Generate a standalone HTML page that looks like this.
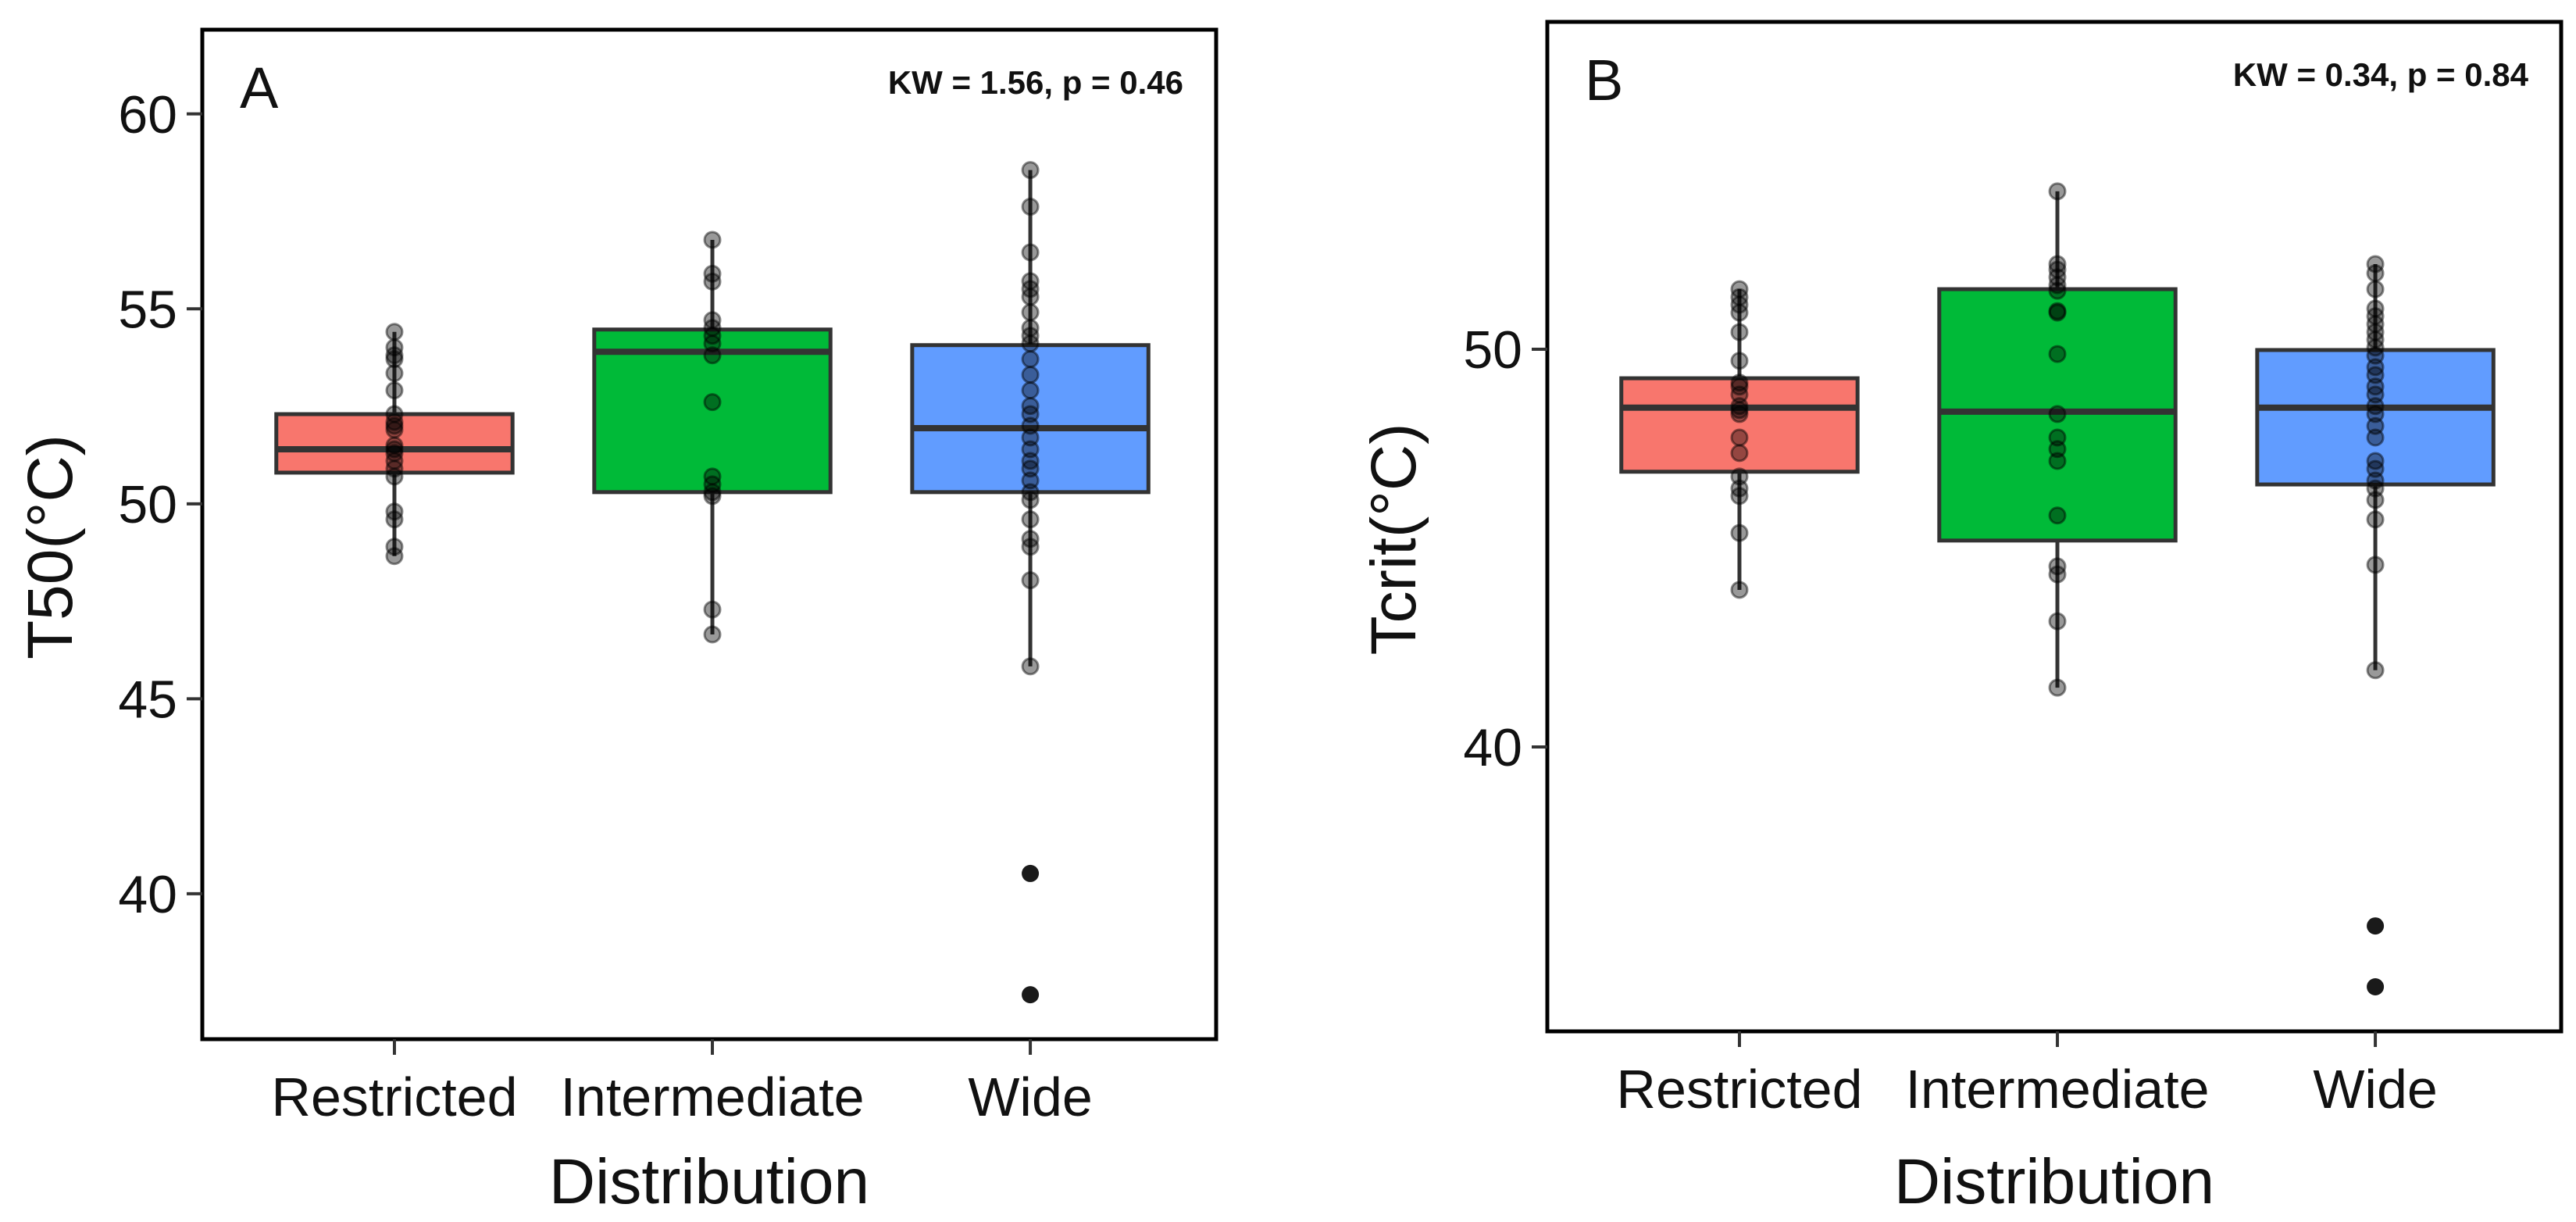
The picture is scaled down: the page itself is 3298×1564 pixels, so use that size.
<!DOCTYPE html>
<html><head><meta charset="utf-8"><style>html,body{margin:0;padding:0;background:#fff}svg{display:block}</style></head>
<body>
<svg id="chart" width="3298" height="1564" xmlns="http://www.w3.org/2000/svg" font-family="Liberation Sans, Arial, sans-serif"></svg>
<script>
const categories = ["Restricted","Intermediate","Wide"];
const colorsFill = ["#F8766D","#00BA38","#619CFF"];
// Panel A: T50
const aTicks = [40,45,50,55,60];
const aQ1 = [50.80,50.30,50.30];
const aMed = [51.40,53.90,51.94];
const aQ3 = [52.30,54.47,54.07];
const aLo = [48.66,46.65,45.83];
const aHi = [54.41,56.77,58.56];
const aOutliers = [[],[],[40.52,37.41]];
const aPtsR = [54.41,54.01,53.81,53.71,53.35,52.91,52.30,52.10,52.00,51.90,51.50,51.40,51.30,51.10,50.90,50.70,49.80,49.60,48.90,48.66];
const aPtsI = [56.77,55.90,55.70,54.71,54.51,54.31,54.11,53.81,52.61,50.70,50.50,50.30,50.20,47.29,46.65];
const aPtsW = [58.56,57.62,56.45,55.71,55.51,55.31,54.91,54.51,54.31,54.11,53.71,53.31,52.91,52.51,52.30,52.00,51.70,51.40,51.10,50.90,50.60,50.30,50.10,49.60,49.10,48.90,48.04,45.83];
// Panel B: Tcrit
const bTicks = [40,50];
const bQ1 = [46.92,45.19,46.60];
const bMed = [48.53,48.43,48.53];
const bQ3 = [49.27,51.51,49.98];
const bLo = [43.95,41.49,41.93];
const bHi = [51.51,53.97,52.14];
const bOutliers = [[],[],[35.50,33.97]];
const bPtsR = [51.51,51.31,51.12,50.92,50.43,49.71,49.16,49.06,48.86,48.57,48.47,48.37,47.78,47.39,46.80,46.50,46.31,45.38,43.95];
const bPtsI = [53.97,52.14,52.00,51.81,51.61,51.47,50.96,50.92,49.88,48.37,47.78,47.49,47.19,45.82,44.54,44.34,43.16,41.49];
const bPtsW = [52.14,51.91,51.51,51.02,50.83,50.63,50.43,50.24,50.04,49.84,49.55,49.35,49.06,48.86,48.57,48.37,48.07,47.78,47.19,46.99,46.70,46.50,46.21,45.72,44.58,41.93];

const svg = document.getElementById('chart');
const NS = 'http://www.w3.org/2000/svg';
function mk(tag, attrs, parent, text){
  const e = document.createElementNS(NS, tag);
  for (const k in attrs) e.setAttribute(k, attrs[k]);
  if (text !== undefined) e.textContent = text;
  parent.appendChild(e); return e;
}

function panel(cfg){
  const g = mk('g', {}, svg);
  
  
  const y = v => cfg.y0 + (cfg.vTop - v) / (cfg.vTop - cfg.vBot) * (cfg.y1 - cfg.y0);
  const x = i => cfg.x0 + (cfg.x1 - cfg.x0) * (0.1895 + i * 0.3136);
  const halfW = (cfg.x1 - cfg.x0) * 0.1165;
  for (let i = 0; i < 3; i++) {
    const cx = x(i);
    const w = mk('line', {x1:cx, x2:cx, y1:y(cfg.hi[i]), y2:y(cfg.lo[i]), stroke:'#333', 'stroke-width':5}, g);
    
    
    const b = mk('rect', {x:cx-halfW, y:y(cfg.q3[i]), width:2*halfW, height:y(cfg.q1[i])-y(cfg.q3[i]), fill:colorsFill[i], stroke:'#333', 'stroke-width':5}, g);
    
    
    const m = mk('line', {x1:cx-halfW, x2:cx+halfW, y1:y(cfg.med[i]), y2:y(cfg.med[i]), stroke:'#333', 'stroke-width':8}, g);
    
    
    cfg.out[i].forEach(v => {
      const o = mk('circle', {cx:cx, cy:y(v), r:11, fill:'#1a1a1a'}, g);
      
      
    });
    cfg.pts[i].forEach(v => {
      const p = mk('circle', {cx:cx, cy:y(v), r:10, fill:'rgba(0,0,0,0.4)', stroke:'rgba(0,0,0,0.45)', 'stroke-width':3}, g);
      
      
    });
  }
  const f = mk('rect', {x:cfg.x0, y:cfg.y0, width:cfg.x1-cfg.x0, height:cfg.y1-cfg.y0, fill:'none', stroke:'#000', 'stroke-width':5}, g);
  
  
  cfg.ticks.forEach(t => {
    mk('line', {x1:cfg.x0-20, x2:cfg.x0, y1:y(t), y2:y(t), stroke:'#333', 'stroke-width':4}, g);
    const tl = mk('text', {x:cfg.x0-32, y:y(t)+24, 'font-size':68, 'text-anchor':'end', fill:'#111'}, g, String(t));
    
    
  });
  categories.forEach((c, i) => {
    mk('line', {x1:x(i), x2:x(i), y1:cfg.y1, y2:cfg.y1+20, stroke:'#333', 'stroke-width':4}, g);
    const xl = mk('text', {x:x(i), y:cfg.y1+98, 'font-size':70, 'text-anchor':'middle', fill:'#111'}, g, c);
    
    
  });
  const xt = mk('text', {x:(cfg.x0+cfg.x1)/2, y:1540, 'font-size':82, 'text-anchor':'middle', fill:'#111'}, g, 'Distribution');
  
  
  const yt = mk('text', {x:0, y:0, 'font-size':82, 'text-anchor':'middle', fill:'#111', transform:'translate('+cfg.ytx+','+cfg.yty+') rotate(-90)'}, g, cfg.ytitle);
  
  
  const lb = mk('text', {x:cfg.x0+48, y:cfg.y0+100, 'font-size':74, fill:'#111'}, g, cfg.id);
  
  
  const kw = mk('text', {x:cfg.x1-42, y:cfg.y0+82, 'font-size':42, 'font-weight':'bold', 'text-anchor':'end', fill:'#111'}, g, cfg.kw);
  
  
}

panel({id:'A', x0:259, x1:1557, y0:38, y1:1330, vTop:62.16, vBot:36.27, ticks:aTicks,
  q1:aQ1, med:aMed, q3:aQ3, lo:aLo, hi:aHi, out:aOutliers, pts:[aPtsR,aPtsI,aPtsW],
  ytitle:'T50(°C)', ytx:92, yty:700, kw:'KW = 1.56, p = 0.46'});
panel({id:'B', x0:1981, x1:3279, y0:28, y1:1320, vTop:58.23, vBot:32.85, ticks:bTicks,
  q1:bQ1, med:bMed, q3:bQ3, lo:bLo, hi:bHi, out:bOutliers, pts:[bPtsR,bPtsI,bPtsW],
  ytitle:'Tcrit(°C)', ytx:1812, yty:690, kw:'KW = 0.34, p = 0.84'});
</script>
</body></html>
